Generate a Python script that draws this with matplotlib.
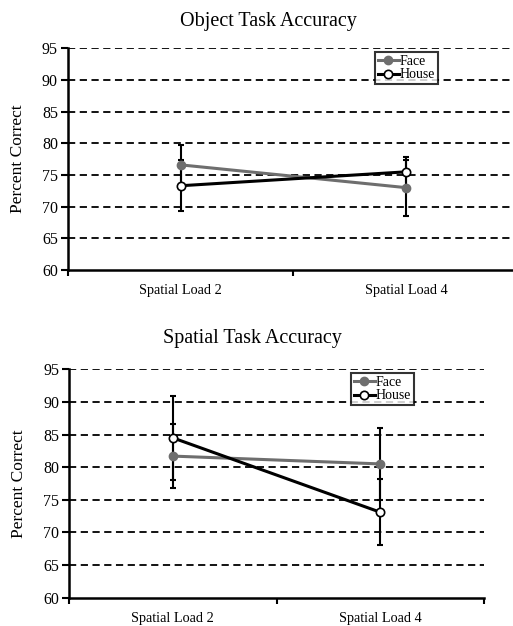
import matplotlib
matplotlib.use("Agg")
import matplotlib.pyplot as plt

plt.rcParams["font.family"] = ["Liberation Serif", "DejaVu Serif"]

conditions = ["Spatial Load 2", "Spatial Load 4"]
series_names = ["Face", "House"]

# object task accuracy (percent correct) and error bars
object_face = [76.6, 73.0]
object_face_err = [3.1, 4.4]
object_house = [73.3, 75.5]
object_house_err = [4.0, 2.4]

# spatial task accuracy
spatial_face = [81.7, 80.5]
spatial_face_err = [4.9, 5.5]
spatial_house = [84.5, 73.1]
spatial_house_err = [6.4, 5.1]

y_ticks = [60, 65, 70, 75, 80, 85, 90, 95]

W, H = 513, 626
fig = plt.figure(figsize=(W / 100, H / 100), dpi=100)


def draw_panel(rect, title, title_xy, face, face_err, house, house_err, legend_xy, ylabel_x):
    ax = fig.add_axes(rect)
    xs = [0.5, 1.5]
    for y in y_ticks[1:]:
        ax.axhline(y, color="black", linestyle=(0, (4, 2.5)), linewidth=1.3, zorder=1)

    ax.errorbar(xs, face, yerr=face_err, fmt="none", ecolor="black",
                elinewidth=1.5, capsize=2.5, capthick=1.5, zorder=3)
    ax.errorbar(xs, house, yerr=house_err, fmt="none", ecolor="black",
                elinewidth=1.5, capsize=2.5, capthick=1.5, zorder=3)
    ax.plot(xs, face, "-o", color="#6e6e6e", linewidth=2.2, markersize=6,
            markerfacecolor="#6e6e6e", markeredgecolor="#6e6e6e", zorder=4,
            label=series_names[0])
    ax.plot(xs, house, "-o", color="black", linewidth=2.2, markersize=6,
            markerfacecolor="white", markeredgecolor="black", markeredgewidth=1.2,
            zorder=5, label=series_names[1])

    ax.set_xlim(0, 2)
    ax.set_ylim(60, 95)
    ax.set_yticks(y_ticks)
    ax.set_xticks([0, 1, 2])
    ax.set_xticklabels([])
    ax.set_xticks(xs, minor=True)
    ax.set_xticklabels(conditions, minor=True)
    ax.tick_params(axis="x", which="minor", length=0, pad=10, labelsize=10.3)
    ax.tick_params(axis="x", which="major", length=4, width=1.5)
    ax.tick_params(axis="y", length=5, width=1.5, labelsize=11.5, pad=2)
    for s in ["top", "right"]:
        ax.spines[s].set_visible(False)
    for s in ["left", "bottom"]:
        ax.spines[s].set_linewidth(1.8)

    ax.set_ylabel("Percent Correct", fontsize=12.5)
    ax.yaxis.set_label_coords(ylabel_x, 0.5)

    fig.text(title_xy[0], title_xy[1], title, fontsize=14.5, ha="center", va="center")

    leg = ax.legend(loc="upper left", bbox_to_anchor=legend_xy,
                    bbox_transform=fig.transFigure, fontsize=10, frameon=True,
                    fancybox=False, handlelength=1.5, handletextpad=0.1,
                    borderpad=0.2, labelspacing=0.05, borderaxespad=0)
    leg.get_frame().set_edgecolor("black")
    leg.get_frame().set_linewidth(1.5)
    return ax


draw_panel([67.7 / W, 1 - 270 / H, (519 - 67.7) / W, 221.7 / H],
           "Object Task Accuracy", (268 / W, 1 - 21.7 / H),
           object_face, object_face_err, object_house, object_house_err,
           (375 / W, 1 - 52 / H), -0.092)

draw_panel([69 / W, 1 - 597.7 / H, (484 - 69) / W, 228.4 / H],
           "Spatial Task Accuracy", (252 / W, 1 - 339 / H),
           spatial_face, spatial_face_err, spatial_house, spatial_house_err,
           (351 / W, 1 - 373 / H), -0.101)

fig.savefig("out.png", dpi=100)
